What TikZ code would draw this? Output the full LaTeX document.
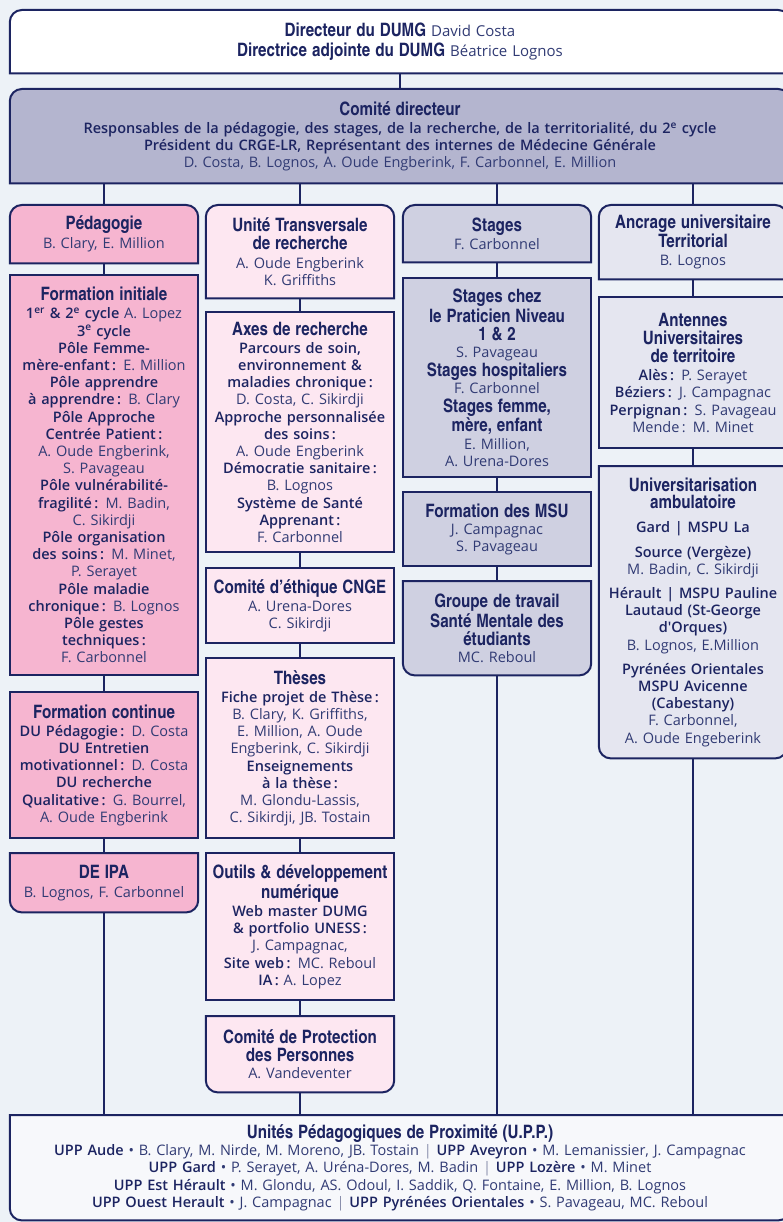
\documentclass[tikz,border=0pt]{standalone}
\usepackage{fontspec}
\IfFontExistsTF{Open Sans SemiBold}
  {\setmainfont{Open Sans}[BoldFont={Open Sans SemiBold}]}
  {\IfFontExistsTF{Open Sans Semibold}
    {\setmainfont{Open Sans}[BoldFont={Open Sans Semibold}]}
    {\setmainfont{Open Sans}}}
\newfontfamily\headfont{texgyreheroscn-bold.otf}
\usetikzlibrary{backgrounds}

\definecolor{dumgnavy}{HTML}{1C2461}
\definecolor{dumgname}{HTML}{313B74}
\definecolor{dumgpage}{HTML}{EDF2F7}
\definecolor{dumgcomite}{HTML}{B4B5CF}
\definecolor{dumgpeda}{HTML}{F6B5D0}
\definecolor{dumgrech}{HTML}{FDE7F1}
\definecolor{dumgstage}{HTML}{CFD0E1}
\definecolor{dumgterr}{HTML}{E5E6F0}
\definecolor{dumgupp}{HTML}{F7F8FB}
\definecolor{dumgsep}{HTML}{8A8FAC}

\newcommand{\hd}[1]{{\headfont\fontsize{18.5}{18.5}\selectfont\color{dumgnavy}#1}}
\newcommand{\lbl}[1]{{\bfseries\color{dumgnavy}#1}}
\newcommand{\uppsep}{{\color{dumgsep}|}}

% outlines: rounded top, rounded bottom, plain
\newcommand{\roundtop}[2]{\draw[boxline, fill=#2] (#1.south) -- (#1.south west) -- (#1.west) [rounded corners=12pt] -- (#1.north west) -- (#1.north east) -- (#1.east) [sharp corners] -- (#1.south east) -- cycle;}
\newcommand{\roundbot}[2]{\draw[boxline, fill=#2] (#1.north) -- (#1.north east) -- (#1.east) [rounded corners=12pt] -- (#1.south east) -- (#1.south west) -- (#1.west) [sharp corners] -- (#1.north west) -- cycle;}
\newcommand{\plainbox}[2]{\draw[boxline, fill=#2] (#1.south west) rectangle (#1.north east);}

\begin{document}
\begin{tikzpicture}[
    x=1pt, y=-1pt,
    box/.style={anchor=north, inner xsep=4pt, inner ysep=0pt, align=center,
      text=dumgname, font={\fontsize{14.5}{17.2}\selectfont}},
    colbox/.style={box, text width=180pt},
    widebox/.style={box, text width=772pt},
    boxline/.style={draw=dumgnavy, line width=2pt},
    link/.style={draw=dumgnavy, line width=1.6pt}
  ]
  \useasboundingbox (0,0) rectangle (783,1222);

  % Direction
  \node[widebox, minimum height=63pt, font={\fontsize{15}{19.5}\selectfont}] (dir) at (400,10)
    {\hd{Directeur du DUMG} David Costa\\
     \hd{Directrice adjointe du DUMG} Béatrice Lognos};
  \node[widebox, minimum height=94pt] (comite) at (400,89)
    {\hd{Comité directeur}\\[1pt]
     \lbl{Responsables de la pédagogie, des stages, de la recherche, de la territorialité, du 2\textsuperscript{e} cycle}\\
     \lbl{Président du CRGE-LR, Représentant des internes de Médecine Générale}\\
     D. Costa, B. Lognos, A. Oude Engberink, F. Carbonnel, E. Million};

  % Pedagogie
  \node[colbox, minimum height=58pt] (peda) at (104,205)
    {\hd{Pédagogie}\\[2pt] B. Clary, E. Million};
  \node[colbox, minimum height=400pt] (finit) at (104,275)
    {\hd{Formation initiale}\\[1pt]
     \lbl{1\textsuperscript{er} \& 2\textsuperscript{e} cycle} A. Lopez\\
     \lbl{3\textsuperscript{e} cycle}\\
     \lbl{Pôle Femme-}\\
     \lbl{mère-enfant\,:} E. Million\\
     \lbl{Pôle apprendre}\\
     \lbl{à apprendre\,:} B. Clary\\
     \lbl{Pôle Approche}\\
     \lbl{Centrée Patient\,:}\\
     A. Oude Engberink,\\
     S. Pavageau\\
     \lbl{Pôle vulnérabilité-}\\
     \lbl{fragilité\,:} M. Badin,\\
     C. Sikirdji\\
     \lbl{Pôle organisation}\\
     \lbl{des soins\,:} M. Minet,\\
     P. Serayet\\
     \lbl{Pôle maladie}\\
     \lbl{chronique\,:} B. Lognos\\
     \lbl{Pôle gestes}\\
     \lbl{techniques\,:}\\
     F. Carbonnel};
  \node[colbox, minimum height=146pt] (fcont) at (104,692)
    {\hd{Formation continue}\\[1pt]
     \lbl{DU Pédagogie\,:} D. Costa\\
     \lbl{DU Entretien}\\
     \lbl{motivationnel\,:} D. Costa\\
     \lbl{DU recherche}\\
     \lbl{Qualitative\,:} G. Bourrel,\\
     A. Oude Engberink};
  \node[colbox, minimum height=59pt] (deipa) at (104,853)
    {\hd{DE IPA}\\[2pt] B. Lognos, F. Carbonnel};

  % Recherche
  \node[colbox, minimum height=93pt] (unite) at (300,205)
    {\hd{Unité Transversale}\\[1pt]\hd{de recherche}\\[1pt]
     A. Oude Engberink\\ K. Griffiths};
  \node[colbox, minimum height=240pt] (axes) at (300,312)
    {\hd{Axes de recherche}\\[1pt]
     \lbl{Parcours de soin,}\\
     \lbl{environnement \&}\\
     \lbl{maladies chronique\,:}\\
     D. Costa, C. Sikirdji\\
     \lbl{Approche personnalisée}\\
     \lbl{des soins\,:}\\
     A. Oude Engberink\\
     \lbl{Démocratie sanitaire\,:}\\
     B. Lognos\\
     \lbl{Système de Santé}\\
     \lbl{Apprenant\,:}\\
     F. Carbonnel};
  \node[colbox, minimum height=75pt] (ethique) at (300,568)
    {\hd{Comité d’éthique CNGE}\\[1pt] A. Urena-Dores\\ C. Sikirdji};
  \node[colbox, minimum height=180pt] (theses) at (300,658)
    {\hd{Thèses}\\[1pt]
     \lbl{Fiche projet de Thèse\,:}\\
     B. Clary, K. Griffiths,\\
     E. Million, A. Oude\\
     Engberink, C. Sikirdji\\
     \lbl{Enseignements}\\
     \lbl{à la thèse\,:}\\
     M. Glondu-Lassis,\\
     C. Sikirdji, JB. Tostain};
  \node[colbox, minimum height=147pt] (outils) at (300,853)
    {\hd{Outils \& développement}\\[1pt]\hd{numérique}\\[1pt]
     \lbl{Web master DUMG}\\
     \lbl{\& portfolio UNESS\,:}\\
     J. Campagnac,\\
     \lbl{Site web\,:} MC. Reboul\\
     \lbl{IA\,:} A. Lopez};
  \node[colbox, minimum height=76pt] (cpp) at (300,1016)
    {\hd{Comité de Protection}\\[1pt]\hd{des Personnes}\\ A. Vandeventer};

  % Stages
  \node[colbox, minimum height=57pt] (stages) at (497,205)
    {\hd{Stages}\\[1pt] F. Carbonnel};
  \node[colbox, minimum height=199pt] (stprat) at (497,278)
    {\hd{Stages chez}\\[1pt]\hd{le Praticien Niveau}\\[1pt]\hd{1 \& 2}\\
     S. Pavageau\\[2pt]
     \hd{Stages hospitaliers}\\
     F. Carbonnel\\[1pt]
     \hd{Stages femme,}\\[1pt]\hd{mère, enfant}\\
     E. Million,\\ A. Urena-Dores};
  \node[colbox, minimum height=74pt] (msu) at (497,492)
    {\hd{Formation des MSU}\\ J. Campagnac\\ S. Pavageau};
  \node[colbox, minimum height=94pt] (groupe) at (497,581)
    {\hd{Groupe de travail}\\[1pt]\hd{Santé Mentale des}\\[1pt]\hd{étudiants}\\ MC. Reboul};

  % Territoire
  \node[colbox, minimum height=74pt] (ancrage) at (693,205)
    {\hd{Ancrage universitaire}\\\hd{Territorial}\\[1pt] B. Lognos};
  \node[colbox, minimum height=151pt] (antennes) at (693,297)
    {\hd{Antennes}\\[1pt]\hd{Universitaires}\\[1pt]\hd{de territoire}\\[1pt]
     \lbl{Alès\,:} P. Serayet\\
     \lbl{Béziers\,:} J. Campagnac\\
     \lbl{Perpignan\,:} S. Pavageau\\
     Mende\,: M. Minet};
  \node[colbox, minimum height=292pt] (univ) at (693,466)
    {\hd{Universitarisation}\\\hd{ambulatoire}\\[7pt]
     \lbl{Gard | MSPU La}\\[7pt]
     \lbl{Source (Vergèze)}\\
     M. Badin, C. Sikirdji\\[7pt]
     \lbl{Hérault | MSPU Pauline}\\
     \lbl{Lautaud (St-George}\\
     \lbl{d\textquotesingle Orques)}\\
     B. Lognos, E.Million\\[7pt]
     \lbl{Pyrénées Orientales}\\
     \lbl{MSPU Avicenne}\\
     \lbl{(Cabestany)}\\
     F. Carbonnel,\\
     A. Oude Engeberink};

  % UPP
  \node[widebox, minimum height=105pt] (upp) at (400,1115)
    {\hd{Unités Pédagogiques de Proximité (U.P.P.)}\\
     \lbl{UPP Aude} • B. Clary, M. Nirde, M. Moreno, JB. Tostain \uppsep{} \lbl{UPP Aveyron} • M. Lemanissier, J. Campagnac\\
     \lbl{UPP Gard} • P. Serayet, A. Uréna-Dores, M. Badin \uppsep{} \lbl{UPP Lozère} • M. Minet\\
     \lbl{UPP Est Hérault} • M. Glondu, AS. Odoul, I. Saddik, Q. Fontaine, E. Million, B. Lognos\\
     \lbl{UPP Ouest Herault} • J. Campagnac \uppsep{} \lbl{UPP Pyrénées Orientales} • S. Pavageau, MC. Reboul};

  \begin{pgfonlayer}{background}
    \fill[dumgpage] (0,0) rectangle (783,1222);

    % Links
    \foreach \a/\b in {dir/comite, peda/finit, finit/fcont, fcont/deipa,
        unite/axes, axes/ethique, ethique/theses, theses/outils, outils/cpp,
        stages/stprat, stprat/msu, msu/groupe, ancrage/antennes, antennes/univ}
      \draw[link] (\a.south) -- (\b.north);
    \foreach \n in {peda, unite, stages, ancrage}
      \draw[link] (\n.north) -- (\n.north |- comite.south);
    \foreach \n in {deipa, cpp, groupe, univ}
      \draw[link] (\n.south) -- (\n.south |- upp.north);

    % Boxes
    \roundtop{dir}{white}
    \roundtop{comite}{dumgcomite}
    \roundtop{peda}{dumgpeda}
    \plainbox{finit}{dumgpeda}
    \plainbox{fcont}{dumgpeda}
    \roundbot{deipa}{dumgpeda}
    \roundtop{unite}{dumgrech}
    \plainbox{axes}{dumgrech}
    \plainbox{ethique}{dumgrech}
    \plainbox{theses}{dumgrech}
    \plainbox{outils}{dumgrech}
    \roundbot{cpp}{dumgrech}
    \roundtop{stages}{dumgstage}
    \plainbox{stprat}{dumgstage}
    \plainbox{msu}{dumgstage}
    \roundbot{groupe}{dumgstage}
    \roundtop{ancrage}{dumgterr}
    \plainbox{antennes}{dumgterr}
    \roundbot{univ}{dumgterr}
    \roundbot{upp}{dumgupp}
  \end{pgfonlayer}
\end{tikzpicture}
\end{document}
